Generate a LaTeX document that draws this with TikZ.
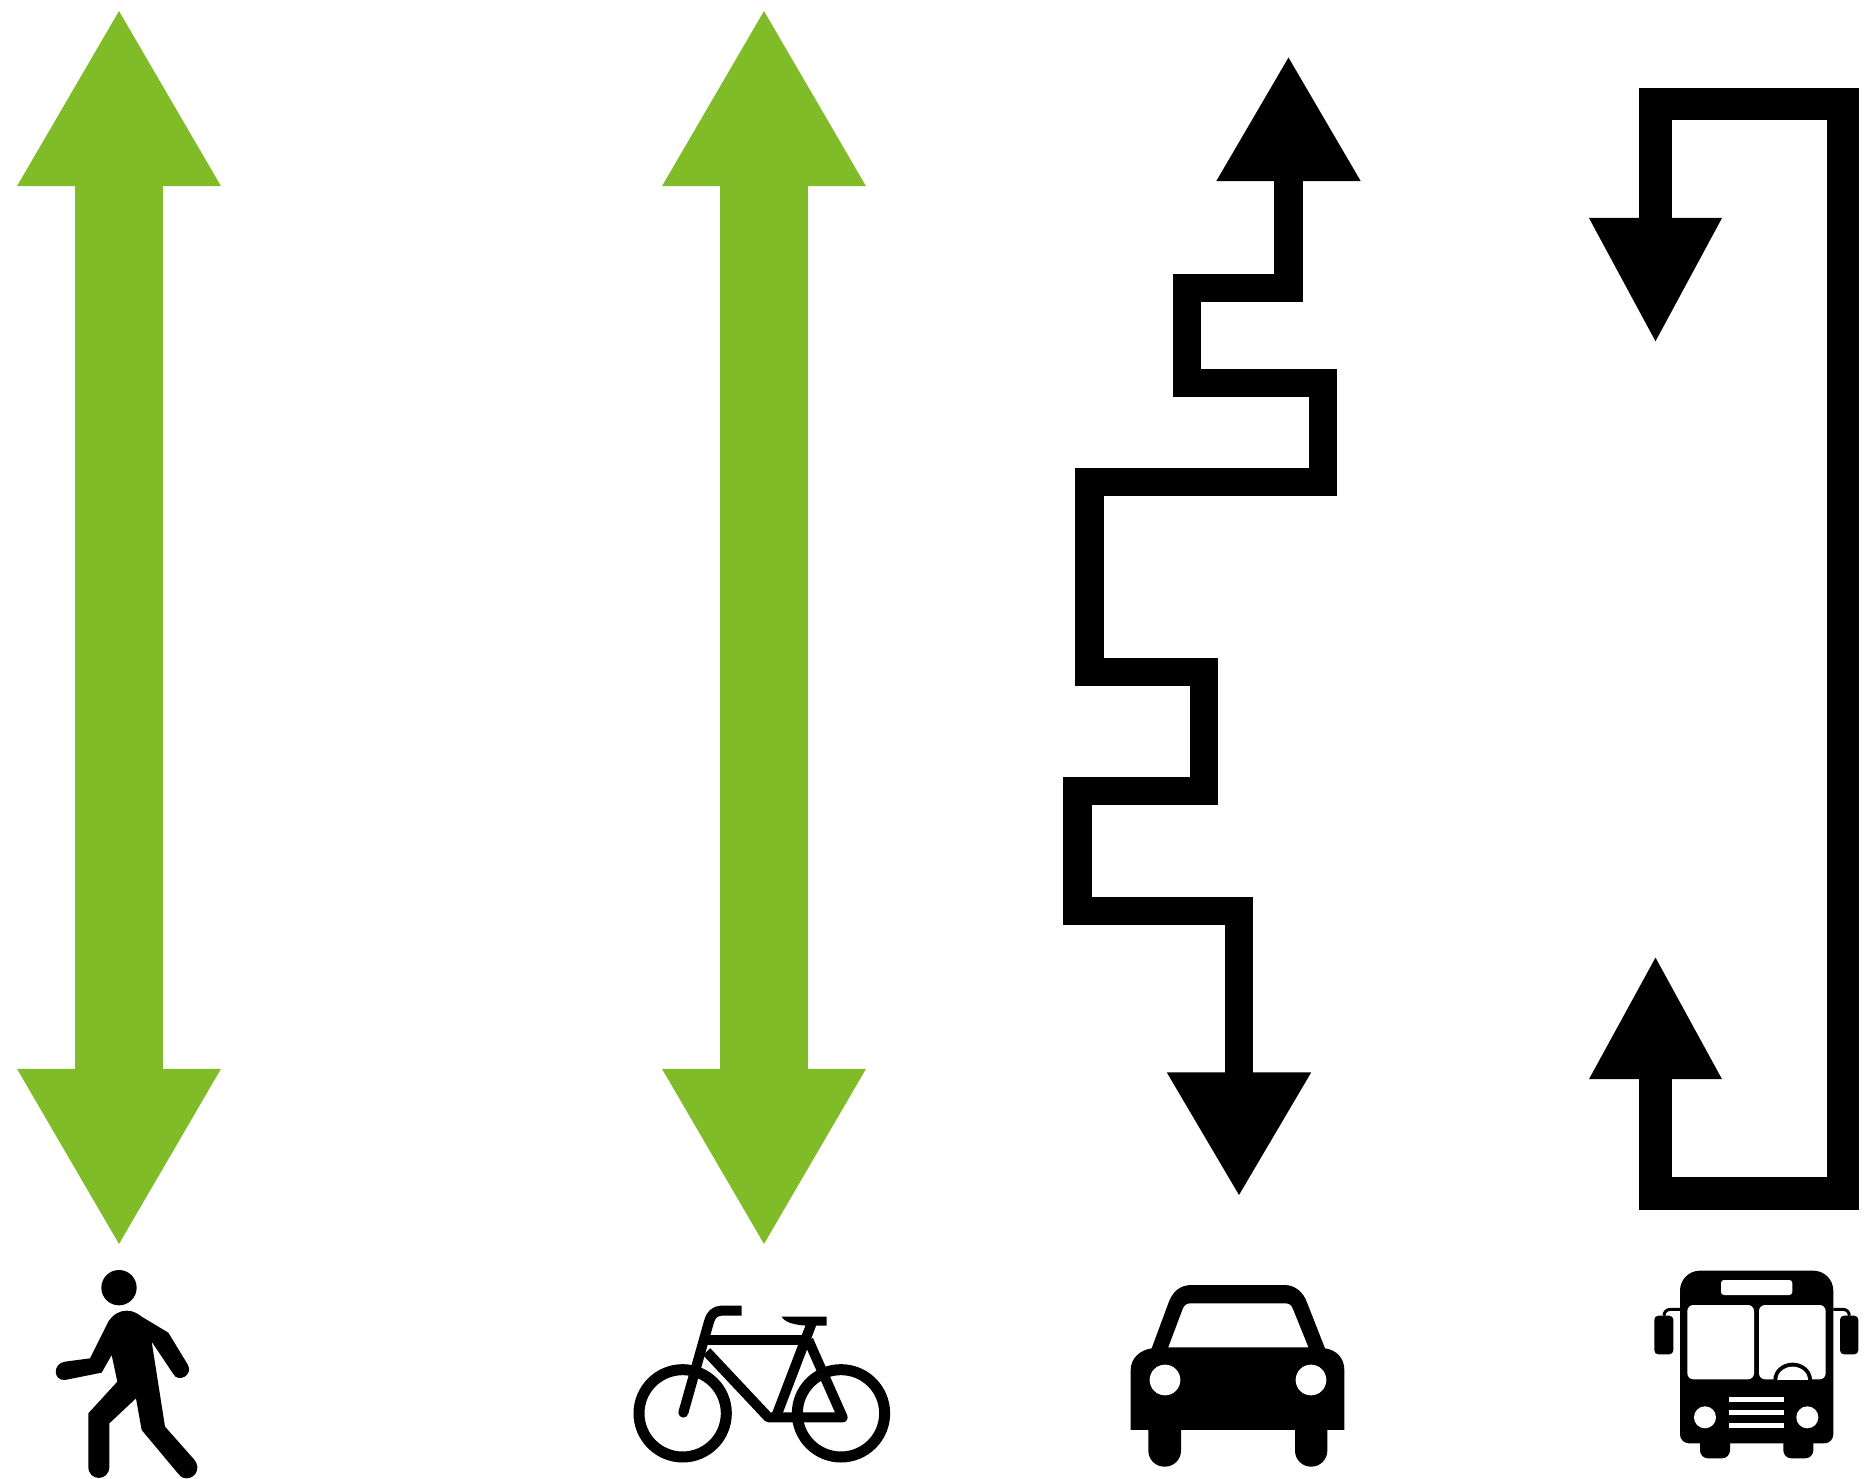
\documentclass[tikz,border=0pt]{standalone}
\usepackage{xcolor}
\definecolor{lane}{HTML}{80BB28}
\usepackage{tikz}
\usetikzlibrary{arrows.meta}

\begin{document}
\begin{tikzpicture}[
  x=0.01cm, y=-0.01cm,
  lanearr/.style={{Triangle[length=1.78cm,width=1.90cm]}-{Triangle[length=1.78cm,width=1.90cm]},
                  line width=0.88cm, lane},
  cararr/.style={{Triangle[length=1.25cm,width=1.36cm]}-{Triangle[length=1.24cm,width=1.36cm]},
                 line width=0.28cm, black, miter limit=10},
  busarr/.style={{Triangle[length=1.24cm,width=1.23cm]}-{Triangle[length=1.26cm,width=1.23cm]},
                 line width=0.32cm, black, miter limit=10},
  limb/.style={draw=black, line join=round},
  ink/.style={fill=black},
  hole/.style={fill=white}
]
  \useasboundingbox (0,0) rectangle (1865,1479);

  % free ends of the arrows
  \coordinate (walktop) at (119,8);
  \coordinate (walkbot) at (119,1247);
  \coordinate (biketop) at (764,8);
  \coordinate (bikebot) at (764,1247);
  \coordinate (cartop) at (1288.5,56);
  \coordinate (carbot) at (1239,1196.5);
  \coordinate (bustop) at (1655.5,955);
  \coordinate (busbot) at (1655.5,344);

  \draw[lanearr] (walktop) -- (walkbot);
  \draw[lanearr] (biketop) -- (bikebot);
  \draw[cararr] (cartop) -- (1288.5,288) -- (1187,288) -- (1187,383) -- (1323,383)
    -- (1323,482) -- (1089.5,482) -- (1089.5,672) -- (1204,672) -- (1204,791)
    -- (1077.5,791) -- (1077.5,911) -- (1239,911) -- (carbot);
  \draw[busarr] (bustop) -- (1655.5,1193.5) -- (1843,1193.5) -- (1843,104)
    -- (1655.5,104) -- (busbot);

  % walker
  \begin{scope}[shift={(30,1250)}, scale=1/3]
    \fill[ink] (267,113) circle (53);
    \fill[ink] (235,215) .. controls (250,192) and (270,182) .. (290,182)
      .. controls (310,182) and (325,192) .. (335,200) -- (415,248) -- (474,345)
      .. controls (490,375) and (445,400) .. (430,372) -- (365,275) -- (405,530)
      -- (492,628) .. controls (515,655) and (495,685) .. (470,685)
      .. controls (455,685) and (448,676) .. (442,668) -- (335,540)
      -- (318,445) -- (238,520) -- (238,650) .. controls (238,695) and (175,695) .. (175,650)
      -- (175,490) -- (262,395) -- (245,315) -- (215,368) -- (105,390)
      .. controls (68,392) and (68,340) .. (105,335) -- (180,325) -- cycle;
  \end{scope}

  % bicycle
  \begin{scope}[shift={(620,1290)}, scale=1/3]
    \draw[line width=0.11cm] (188,370) circle (131);
    \draw[line width=0.11cm] (663,370) circle (131);
    \draw[limb, line width=0.10cm] (365,62) -- (305,62) .. controls (285,62) and (272,75) .. (267,95) -- (190,368);
    \fill[ink] (190,368) circle (15);
    \draw[limb, line width=0.10cm] (265,150) -- (565,150);
    \draw[limb, line width=0.10cm] (260,185) -- (445,382) -- (668,382) -- (565,150);
    \draw[limb, line width=0.10cm] (575,100) -- (470,375);
    \fill[ink] (485,80) -- (620,80) -- (620,107) -- (560,107) .. controls (525,105) and (495,98) .. (485,80) -- cycle;
  \end{scope}

  % car
  \begin{scope}[shift={(1110,1270)}, scale=1/3]
    \fill[ink, rounded corners=0.16cm] (115,400) rectangle (213,590);
    \fill[ink, rounded corners=0.16cm] (555,400) rectangle (652,590);
    \fill[ink] (62,480) -- (62,300) .. controls (62,265) and (90,240) .. (125,235)
      -- (175,100) .. controls (187,65) and (210,45) .. (245,45) -- (522,45)
      .. controls (555,45) and (580,65) .. (592,100) -- (645,235)
      .. controls (680,240) and (703,265) .. (703,300) -- (703,480) -- cycle;
    \fill[hole] (175,232) -- (218,118) .. controls (222,106) and (230,100) .. (242,100)
      -- (525,100) .. controls (537,100) and (545,106) .. (549,118) -- (595,232) -- cycle;
    \fill[hole] (165,330) circle (46);
    \fill[hole] (603,330) circle (46);
  \end{scope}

  % bus
  \begin{scope}[shift={(1640,1250)}, scale=1/3]
    \fill[ink, rounded corners=0.08cm] (180,520) rectangle (270,625);
    \fill[ink, rounded corners=0.08cm] (430,520) rectangle (520,625);
    \fill[ink, rounded corners=0.04cm] (43,197) rectangle (100,313);
    \fill[ink, rounded corners=0.04cm] (600,197) rectangle (655,313);
    \draw[line width=0.03cm] (120,178) -- (92,178) .. controls (80,178) and (72,186) .. (72,197);
    \draw[line width=0.03cm] (580,178) -- (608,178) .. controls (620,178) and (628,186) .. (628,197);
    \fill[ink, rounded corners=0.2cm] (120,300) -- (120,62) -- (580,62) -- (580,300)
      [rounded corners=0.09cm] -- (580,580) -- (120,580) -- cycle;
    \fill[hole, rounded corners=0.03cm] (243,90) rectangle (457,135);
    \fill[hole, rounded corners=0.06cm] (142,165) rectangle (342,388);
    \fill[hole, rounded corners=0.06cm] (357,165) rectangle (557,388);
    \fill[ink] (400,390) arc[start angle=180, end angle=360, x radius=58, y radius=52] -- cycle;
    \fill[hole] (412,390) arc[start angle=180, end angle=360, x radius=46, y radius=40] -- cycle;
    \fill[hole] (267,440) rectangle (433,456);
    \fill[hole] (267,480) rectangle (433,496);
    \fill[hole] (267,519) rectangle (433,535);
    \fill[hole] (195,502) circle (33);
    \fill[hole] (502,502) circle (33);
  \end{scope}
\end{tikzpicture}
\end{document}
